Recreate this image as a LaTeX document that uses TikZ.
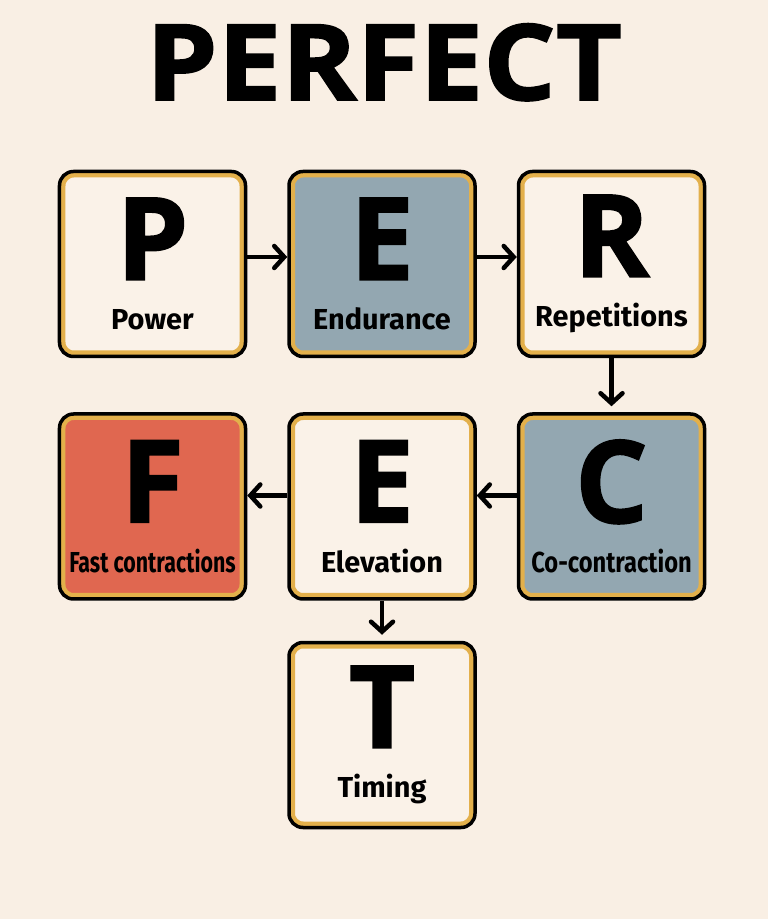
\documentclass[tikz,border=0pt]{standalone}
\usepackage{fontspec}
\usepackage{graphicx}
\usepackage{tikz}
\usetikzlibrary{arrows.meta, positioning}
\setmainfont{Fira Sans}
\newfontfamily\widefont{Open Sans}[BoldFeatures={FakeBold=1.5}]
\definecolor{paper}{RGB}{249, 239, 228}
\definecolor{boxcream}{RGB}{250, 242, 232}
\definecolor{slate}{RGB}{147, 167, 177}
\definecolor{coral}{RGB}{224, 103, 80}
\definecolor{goldrim}{RGB}{227, 176, 75}
\newcommand{\bigletter}{\widefont\bfseries\fontsize{115}{126}\selectfont}
\newcommand{\wordfont}{\bfseries\fontsize{29}{36}\selectfont}

\begin{document}
\begin{tikzpicture}[
  x=1bp, y=1bp,
  node distance=54bp and 40bp,
  letterbox/.style={
    draw=black, line width=3.5bp, fill=boxcream, rounded corners=14bp,
    minimum width=186bp, minimum height=185bp, inner sep=0pt,
    align=center, font=\wordfont,
    path picture={
      \draw[goldrim, line width=12bp, rounded corners=14bp]
        (path picture bounding box.south west) rectangle
        (path picture bounding box.north east);
    }
  },
  arrow/.style={-{Straight Barb[length=10bp, width=22bp, line cap=round]},
    line width=4.5bp, color=black}
]

  % Sfondo e titolo
  \fill[paper] (0,0) rectangle (768,919);
  \useasboundingbox (0,0) rectangle (768,919);
  \node[anchor=base, font=\widefont\bfseries\fontsize{106}{116}\selectfont] (title) at (384,819) {\scalebox{1.08}[1]{PERFECT}};

  % Prima riga
  \node[letterbox] (p) at (152.5,655) {{\bigletter P}\\[14bp]Power};
  \node[letterbox, fill=slate, right=of p] (e1) {{\bigletter E}\\[14bp]Endurance};
  \node[letterbox, right=of e1] (r) {{\bigletter R}\\[14bp]Repetitions};

  % Seconda riga
  \node[letterbox, fill=slate, below=of r] (c) {{\bigletter C}\\[14bp]\scalebox{0.82}[1]{Co-contraction}};
  \node[letterbox, left=of c] (e2) {{\bigletter E}\\[14bp]Elevation};
  \node[letterbox, fill=coral, left=of e2] (f) {{\bigletter F}\\[14bp]\scalebox{0.74}[1]{Fast contractions}};

  % Ultima casella
  \node[letterbox, below=40bp of e2] (t) {{\bigletter T}\\[14bp]Timing};

  % Frecce
  \draw[arrow] ([yshift=7bp]p.east) -- ([yshift=7bp]e1.west);
  \draw[arrow] ([yshift=7bp]e1.east) -- ([yshift=7bp]r.west);
  \draw[arrow, shorten >=6bp] (r.south) -- (c.north);
  \draw[arrow] ([yshift=11bp]c.west) -- ([yshift=11bp]e2.east);
  \draw[arrow] ([yshift=11bp]e2.west) -- ([yshift=11bp]f.east);
  \draw[arrow, shorten >=6bp] (e2.south) -- (t.north);

\end{tikzpicture}
\end{document}
